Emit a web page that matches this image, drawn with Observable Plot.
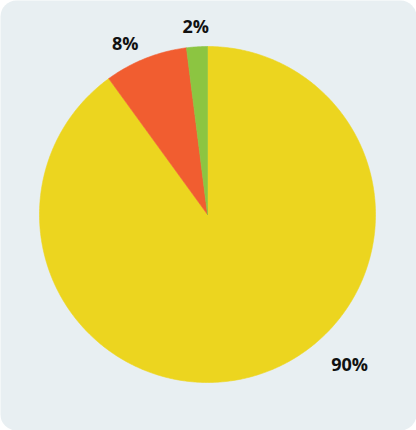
<!DOCTYPE html>
<html>
<head>
<meta charset="utf-8">
<script src="https://cdn.jsdelivr.net/npm/d3@7"></script>
<script src="https://cdn.jsdelivr.net/npm/@observablehq/plot@0.6"></script>
<style>
  html, body { margin: 0; padding: 0; background: #ffffff; }
  #chart svg { display: block; }
</style>
</head>
<body>
<div id="chart"></div>
<script>
// ---- data ----
const categories = ["Category A", "Category B", "Category C"];
const values = [90, 8, 2];
const valueLabels = ["90%", "8%", "2%"];
const colors = ["#ecd51f", "#f15d30", "#8cc541"];

// ---- geometry derived from data ----
const W = 416, H = 430;
const R = 168;                 // pie radius in px-units
const total = d3.sum(values);
let cum = 0;
const slices = categories.map((c, i) => {
  const a0 = cum / total * 2 * Math.PI;
  cum += values[i];
  const a1 = cum / total * 2 * Math.PI;
  return {category: c, value: values[i], label: valueLabels[i], a0, a1};
});
const pts = [];
for (const s of slices) {
  pts.push({category: s.category, x: 0, y: 0});
  const n = Math.max(2, Math.ceil((s.a1 - s.a0) / (Math.PI / 360)));
  for (let k = 0; k <= n; k++) {
    const a = s.a0 + (s.a1 - s.a0) * k / n;
    pts.push({category: s.category, x: R * Math.sin(a), y: R * Math.cos(a)});
  }
  pts.push({category: s.category, x: 0, y: 0});
}
// label placement: slice mid-angle, just outside the pie, plus small nudges
const labelR = 188;
const nudges = [[84, 28], [-13, -5], [0, 0]];
const labels = slices.map((s, i) => {
  const a = (s.a0 + s.a1) / 2;
  return {label: s.label, x: labelR * Math.sin(a) + nudges[i][0], y: labelR * Math.cos(a) + nudges[i][1]};
});

const chart = Plot.plot({
  width: W,
  height: H,
  margin: 0,
  x: {domain: [-207, W - 207], axis: null},
  y: {domain: [214 - H, 214], axis: null},
  color: {domain: categories, range: colors},
  style: {fontFamily: "'Open Sans', sans-serif", background: "transparent"},
  marks: [
    Plot.frame({fill: "#e8eff2", stroke: "none", rx: 16}),
    Plot.line(pts, {x: "x", y: "y", z: "category", fill: "category", stroke: "category", strokeWidth: 0.6, curve: "linear"}),
    Plot.text(labels, {x: "x", y: "y", text: "label", fontSize: 18, fontWeight: 700, fill: "#111111", textAnchor: "middle", lineAnchor: "middle"})
  ]
});
document.getElementById("chart").appendChild(chart);
</script>
</body>
</html>
